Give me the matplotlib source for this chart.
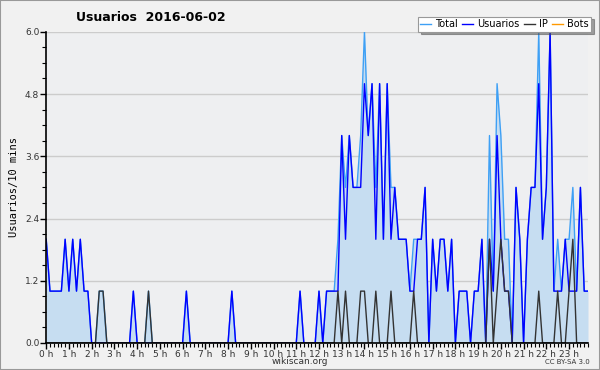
"""
Usuarios por 10 minutos - wikiscan, 2016-06-02
"""

import matplotlib
matplotlib.use('Agg')
import matplotlib.pyplot as plt
from matplotlib.ticker import MultipleLocator
import numpy as np

# 144 intervals of 10 minutes (0 h .. 23 h 50)
usuarios = [
    2, 1, 1, 1, 1, 2, 1, 2, 1, 2, 1, 1, 0, 0, 0, 0, 0, 0,      # 0h-2h50
    0, 0, 0, 0, 0, 1, 0, 0, 0, 0, 0, 0, 0, 0, 0, 0, 0, 0,      # 3h-5h50
    0, 1, 0, 0, 0, 0, 0, 0, 0, 0, 0, 0, 0, 1, 0, 0, 0, 0,      # 6h-8h50
    0, 0, 0, 0, 0, 0, 0, 0, 0, 0, 0, 0, 0, 1, 0, 0, 0, 0,      # 9h-11h50
    1, 0, 1, 1, 1, 1, 4, 2, 4, 3, 3, 3, 5, 4, 5, 2, 5, 2,      # 12h-14h50
    5, 2, 3, 2, 2, 2, 1, 1, 2, 2, 3, 0, 2, 1, 2, 2, 1, 2,      # 15h-17h50
    0, 1, 1, 1, 0, 1, 1, 2, 0, 2, 1, 4, 2, 1, 1, 0, 3, 2,      # 18h-20h50
    0, 2, 3, 3, 5, 2, 3, 6, 1, 1, 1, 2, 1, 1, 1, 3, 1, 1,      # 21h-23h50
]
ip = [
    0, 0, 0, 0, 0, 0, 0, 0, 0, 0, 0, 0, 0, 0, 1, 1, 0, 0,
    0, 0, 0, 0, 0, 0, 0, 0, 0, 1, 0, 0, 0, 0, 0, 0, 0, 0,
    0, 0, 0, 0, 0, 0, 0, 0, 0, 0, 0, 0, 0, 0, 0, 0, 0, 0,
    0, 0, 0, 0, 0, 0, 0, 0, 0, 0, 0, 0, 0, 0, 0, 0, 0, 0,
    0, 0, 0, 0, 0, 1, 0, 1, 0, 0, 0, 1, 1, 0, 0, 1, 0, 0,
    0, 1, 0, 0, 0, 0, 0, 1, 0, 0, 0, 0, 0, 0, 0, 0, 0, 0,
    0, 0, 0, 0, 0, 0, 0, 0, 0, 2, 0, 1, 2, 1, 1, 0, 0, 0,
    0, 0, 0, 0, 1, 0, 0, 0, 0, 1, 0, 0, 1, 2, 0, 0, 0, 0,
]
bots = [0] * 144
total = [
    2, 1, 1, 1, 1, 2, 1, 2, 1, 2, 1, 1, 0, 0, 1, 1, 0, 0,
    0, 0, 0, 0, 0, 1, 0, 0, 0, 1, 0, 0, 0, 0, 0, 0, 0, 0,
    0, 1, 0, 0, 0, 0, 0, 0, 0, 0, 0, 0, 0, 1, 0, 0, 0, 0,
    0, 0, 0, 0, 0, 0, 0, 0, 0, 0, 0, 0, 0, 1, 0, 0, 0, 0,
    1, 0, 1, 1, 1, 2, 4, 3, 4, 3, 3, 4, 6, 4, 5, 3, 5, 2,
    5, 3, 3, 2, 2, 2, 1, 2, 2, 2, 3, 0, 2, 1, 2, 2, 1, 2,
    0, 1, 1, 1, 0, 1, 1, 2, 0, 4, 1, 5, 4, 2, 2, 0, 3, 2,
    0, 2, 3, 3, 6, 2, 3, 6, 1, 2, 1, 2, 2, 3, 1, 3, 1, 1,
]
hour_labels = ['%d h' % h for h in range(24)]

steps = np.arange(len(total))

fig = plt.figure(figsize=(6, 3.7), dpi=100, facecolor='#f1f1f1')
ax = fig.add_axes([0.077, 0.073, 0.903, 0.841], facecolor='#eeeff1')

ax.fill_between(steps, total, 0, color='#c6ddf1', lw=0)
ax.plot(steps, total, color='#3ea0f5', lw=1.0, label='Total')
ax.plot(steps, usuarios, color='#0000ff', lw=1.0, label='Usuarios')
ax.plot(steps, ip, color='#333333', lw=1.0, label='IP')
ax.plot(steps, bots, color='#ff9900', lw=1.0, label='Bots', alpha=0)

ax.set_xlim(0, 143)
ax.set_ylim(0, 6)
ax.set_yticks(np.arange(0, 6.01, 1.2))
ax.set_yticklabels(['%.1f' % v for v in np.arange(0, 6.01, 1.2)])
ax.yaxis.set_minor_locator(MultipleLocator(0.3))
ax.set_xticks(np.arange(0, 144, 6))
ax.set_xticklabels(hour_labels)
ax.xaxis.set_minor_locator(MultipleLocator(1))
ax.grid(axis='y', color='#cccccc', lw=1.0)
ax.set_axisbelow(True)

for side in ['top', 'right']:
    ax.spines[side].set_visible(False)
for side in ['left', 'bottom']:
    ax.spines[side].set_linewidth(1.2)
ax.tick_params(axis='both', which='major', labelsize=6.5, length=4, width=1,
               pad=1, colors='black', labelcolor='#333333')
ax.tick_params(axis='both', which='minor', length=3, width=0.8)

ax.set_ylabel('Usuarios/10 mins', fontsize=7.5, family='DejaVu Sans Mono',
              labelpad=4)

fig.text(0.252, 0.953, 'Usuarios  2016-06-02', fontsize=9, fontweight='bold',
         ha='center', va='center')
fig.text(0.5, 0.022, 'wikiscan.org', fontsize=6.5, ha='center', va='center',
         color='#333333')
fig.text(0.983, 0.022, 'CC BY-SA 3.0', fontsize=5, ha='right', va='center',
         color='#333333')

leg = fig.legend(loc='upper right', bbox_to_anchor=(0.985, 0.955), ncol=4,
                 fontsize=7, frameon=True, fancybox=False, shadow=True,
                 handlelength=1.1, handletextpad=0.4, columnspacing=0.5,
                 borderpad=0.25, borderaxespad=0)
leg.get_frame().set_edgecolor('#999999')
leg.get_frame().set_linewidth(0.8)
for h in leg.get_lines():
    h.set_alpha(1)

# outer border
fig.patches.append(plt.Rectangle((0, 0), 1, 1, transform=fig.transFigure,
                                 fill=False, edgecolor='#999999', lw=1.5))

plt.savefig('out.png', dpi=100, facecolor=fig.get_facecolor())
